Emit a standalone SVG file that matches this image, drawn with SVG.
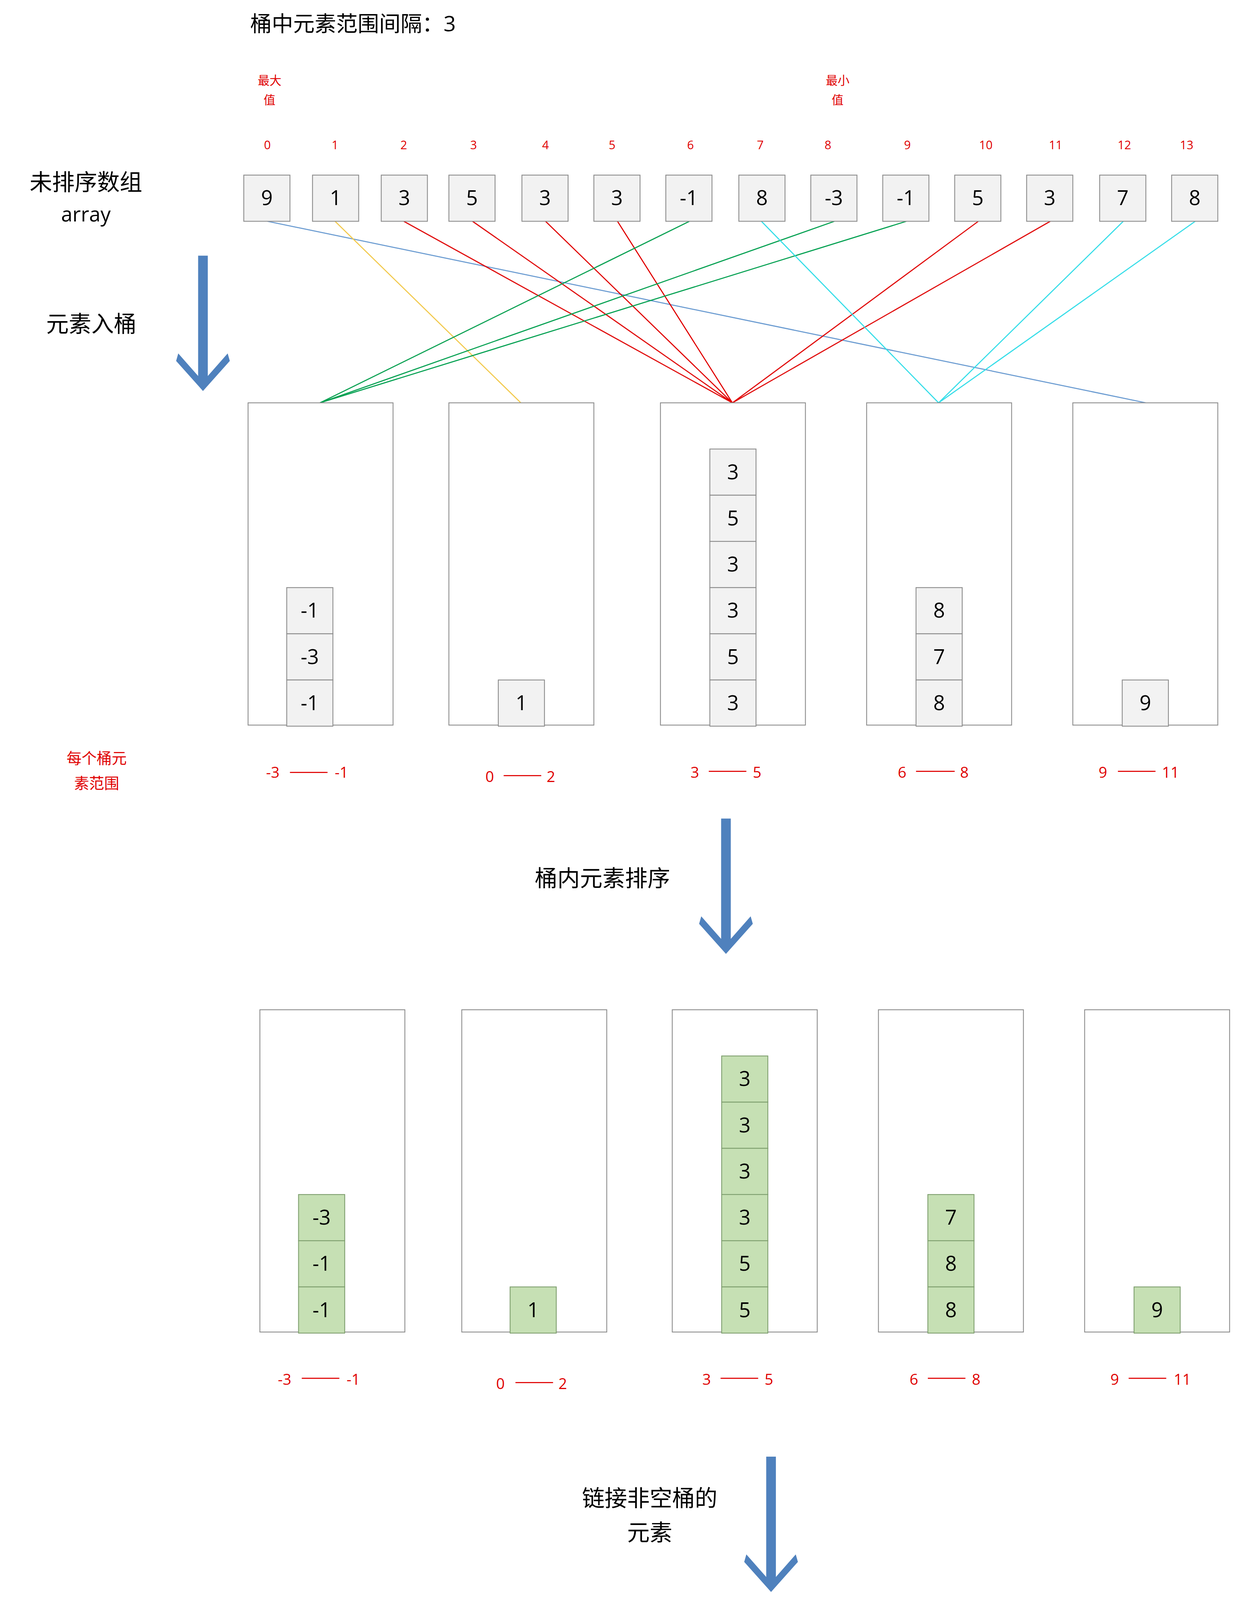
<svg xmlns="http://www.w3.org/2000/svg" width="3160" height="4313" viewBox="0 0 3160 4313">
<style>
text{font-family:"Open Sans","Noto Sans CJK SC",sans-serif;text-anchor:middle}
.c{fill:#f2f2f2;stroke:#8c8c8c;stroke-width:0.8}
.g{fill:#c6e0b4;stroke:#7f9f6f;stroke-width:0.8}
.y{fill:#ffd966;stroke:#b7950b;stroke-width:0.8}
.v{font-size:19px;fill:#000}
.r{fill:#e00000;font-size:14px}
.ix{fill:#e00000;font-size:11px}
.bk{fill:#fff;stroke:#8c8c8c;stroke-width:0.8}
.rl{stroke:#e00000;stroke-width:1}
.af{fill:#4f81bd}
.h{font-size:21px;fill:#000}
</style>
<defs>
<path id="arr" class="af" d="M-4.5 0H4.5V112L23 91L25 98L0 126L-25 98L-23 91L-4.5 112Z"/>
</defs>
<rect width="3160" height="4313" fill="#fff"/>
<g transform="scale(2.75)">
<text x="233" y="29" class="h" style="text-anchor:start;font-size:20px">桶中元素范围间隔：3</text>
<g id="labels-top">
<text x="251" y="79" class="ix">最大</text><text x="251" y="97" class="ix">值</text>
<text x="780" y="79" class="ix">最小</text><text x="780" y="97" class="ix">值</text>
<text x="249" y="139" class="ix">0</text><text x="312" y="139" class="ix">1</text><text x="376" y="139" class="ix">2</text><text x="441" y="139" class="ix">3</text><text x="508" y="139" class="ix">4</text><text x="570" y="139" class="ix">5</text><text x="643" y="139" class="ix">6</text><text x="708" y="139" class="ix">7</text><text x="771" y="139" class="ix">8</text><text x="845" y="139" class="ix">9</text><text x="918" y="139" class="ix">10</text><text x="983" y="139" class="ix">11</text><text x="1047" y="139" class="ix">12</text><text x="1105" y="139" class="ix">13</text>
<text x="80" y="177" class="h">未排序数组</text><text x="80" y="206" class="v">array</text>
<text x="85" y="309" class="h">元素入桶</text>
<text x="561" y="825" class="h">桶内元素排序</text>
<text x="605" y="1402" class="h">链接非空桶的</text><text x="605" y="1434" class="h">元素</text>
<text x="61" y="1542" class="h">排序完成</text>
<text x="90" y="711" class="r">每个桶元</text><text x="90" y="734" class="r">素范围</text>
</g>
<g id="connectors" stroke-width="1" fill="none">
<line x1="249" y1="206" x2="1067" y2="375" stroke="#6a9bd1"/>
<line x1="312" y1="206" x2="485" y2="375" stroke="#f2c94c"/>
<g stroke="#e00000">
<line x1="376" y1="206" x2="682" y2="375"/><line x1="440" y1="206" x2="682" y2="375"/><line x1="508" y1="206" x2="682" y2="375"/><line x1="575" y1="206" x2="682" y2="375"/><line x1="911" y1="206" x2="682" y2="375"/><line x1="978" y1="206" x2="682" y2="375"/>
</g>
<g stroke="#00a050">
<line x1="642" y1="206" x2="298" y2="375"/><line x1="777" y1="206" x2="298" y2="375"/><line x1="844" y1="206" x2="298" y2="375"/>
</g>
<g stroke="#33dde8">
<line x1="709" y1="206" x2="874" y2="375"/><line x1="1046" y1="206" x2="874" y2="375"/><line x1="1113" y1="206" x2="874" y2="375"/>
</g>
<use href="#arr" x="189" y="238"/>
<use href="#arr" x="676" y="762"/>
<use href="#arr" x="718" y="1356"/>
</g>
<g id="array">
<g><rect class="c" x="227" y="163" width="43" height="43"/><text class="v" x="248.5" y="191">9</text></g>
<g><rect class="c" x="291" y="163" width="43" height="43"/><text class="v" x="312.5" y="191">1</text></g>
<g><rect class="c" x="355" y="163" width="43" height="43"/><text class="v" x="376.5" y="191">3</text></g>
<g><rect class="c" x="418" y="163" width="43" height="43"/><text class="v" x="439.5" y="191">5</text></g>
<g><rect class="c" x="486" y="163" width="43" height="43"/><text class="v" x="507.5" y="191">3</text></g>
<g><rect class="c" x="553" y="163" width="43" height="43"/><text class="v" x="574.5" y="191">3</text></g>
<g><rect class="c" x="620" y="163" width="43" height="43"/><text class="v" x="641.5" y="191">-1</text></g>
<g><rect class="c" x="688" y="163" width="43" height="43"/><text class="v" x="709.5" y="191">8</text></g>
<g><rect class="c" x="755" y="163" width="43" height="43"/><text class="v" x="776.5" y="191">-3</text></g>
<g><rect class="c" x="822" y="163" width="43" height="43"/><text class="v" x="843.5" y="191">-1</text></g>
<g><rect class="c" x="889" y="163" width="43" height="43"/><text class="v" x="910.5" y="191">5</text></g>
<g><rect class="c" x="956" y="163" width="43" height="43"/><text class="v" x="977.5" y="191">3</text></g>
<g><rect class="c" x="1024" y="163" width="43" height="43"/><text class="v" x="1045.5" y="191">7</text></g>
<g><rect class="c" x="1091" y="163" width="43" height="43"/><text class="v" x="1112.5" y="191">8</text></g>
</g>
<g id="buckets1">
<rect class="bk" x="231" y="375" width="135" height="300"/><rect class="bk" x="418" y="375" width="135" height="300"/><rect class="bk" x="615" y="375" width="135" height="300"/><rect class="bk" x="807" y="375" width="135" height="300"/><rect class="bk" x="999" y="375" width="135" height="300"/>
<rect class="c" x="267" y="547" width="43" height="43"/><text class="v" x="288.5" y="575">-1</text>
<rect class="c" x="267" y="590" width="43" height="43"/><text class="v" x="288.5" y="618">-3</text>
<rect class="c" x="267" y="633" width="43" height="43"/><text class="v" x="288.5" y="661">-1</text>
<rect class="c" x="464" y="633" width="43" height="43"/><text class="v" x="485.5" y="661">1</text>
<rect class="c" x="661" y="418" width="43" height="43"/><text class="v" x="682.5" y="446">3</text>
<rect class="c" x="661" y="461" width="43" height="43"/><text class="v" x="682.5" y="489">5</text>
<rect class="c" x="661" y="504" width="43" height="43"/><text class="v" x="682.5" y="532">3</text>
<rect class="c" x="661" y="547" width="43" height="43"/><text class="v" x="682.5" y="575">3</text>
<rect class="c" x="661" y="590" width="43" height="43"/><text class="v" x="682.5" y="618">5</text>
<rect class="c" x="661" y="633" width="43" height="43"/><text class="v" x="682.5" y="661">3</text>
<rect class="c" x="853" y="547" width="43" height="43"/><text class="v" x="874.5" y="575">8</text>
<rect class="c" x="853" y="590" width="43" height="43"/><text class="v" x="874.5" y="618">7</text>
<rect class="c" x="853" y="633" width="43" height="43"/><text class="v" x="874.5" y="661">8</text>
<rect class="c" x="1045" y="633" width="43" height="43"/><text class="v" x="1066.5" y="661">9</text>
</g>
<g id="ranges1">
<text class="r" x="254" y="724">-3</text><line class="rl" x1="270" y1="719" x2="305" y2="719"/><text class="r" x="318" y="724">-1</text>
<text class="r" x="456" y="728">0</text><line class="rl" x1="469" y1="722" x2="504" y2="722"/><text class="r" x="513" y="728">2</text>
<text class="r" x="647" y="724">3</text><line class="rl" x1="660" y1="718" x2="695" y2="718"/><text class="r" x="705" y="724">5</text>
<text class="r" x="840" y="724">6</text><line class="rl" x1="853" y1="718" x2="889" y2="718"/><text class="r" x="898" y="724">8</text>
<text class="r" x="1027" y="724">9</text><line class="rl" x1="1041" y1="718" x2="1076" y2="718"/><text class="r" x="1090" y="724">11</text>
</g>
<g id="buckets2">
<rect class="bk" x="242" y="940" width="135" height="300"/><rect class="bk" x="430" y="940" width="135" height="300"/><rect class="bk" x="626" y="940" width="135" height="300"/><rect class="bk" x="818" y="940" width="135" height="300"/><rect class="bk" x="1010" y="940" width="135" height="300"/>
<rect class="g" x="278" y="1112" width="43" height="43"/><text class="v" x="299.5" y="1140">-3</text>
<rect class="g" x="278" y="1155" width="43" height="43"/><text class="v" x="299.5" y="1183">-1</text>
<rect class="g" x="278" y="1198" width="43" height="43"/><text class="v" x="299.5" y="1226">-1</text>
<rect class="g" x="475" y="1198" width="43" height="43"/><text class="v" x="496.5" y="1226">1</text>
<rect class="g" x="672" y="983" width="43" height="43"/><text class="v" x="693.5" y="1011">3</text>
<rect class="g" x="672" y="1026" width="43" height="43"/><text class="v" x="693.5" y="1054">3</text>
<rect class="g" x="672" y="1069" width="43" height="43"/><text class="v" x="693.5" y="1097">3</text>
<rect class="g" x="672" y="1112" width="43" height="43"/><text class="v" x="693.5" y="1140">3</text>
<rect class="g" x="672" y="1155" width="43" height="43"/><text class="v" x="693.5" y="1183">5</text>
<rect class="g" x="672" y="1198" width="43" height="43"/><text class="v" x="693.5" y="1226">5</text>
<rect class="g" x="864" y="1112" width="43" height="43"/><text class="v" x="885.5" y="1140">7</text>
<rect class="g" x="864" y="1155" width="43" height="43"/><text class="v" x="885.5" y="1183">8</text>
<rect class="g" x="864" y="1198" width="43" height="43"/><text class="v" x="885.5" y="1226">8</text>
<rect class="g" x="1056" y="1198" width="43" height="43"/><text class="v" x="1077.5" y="1226">9</text>
</g>
<g id="ranges2">
<text class="r" x="265" y="1289">-3</text><line class="rl" x1="281" y1="1283" x2="316" y2="1283"/><text class="r" x="329" y="1289">-1</text>
<text class="r" x="466" y="1293">0</text><line class="rl" x1="480" y1="1287" x2="515" y2="1287"/><text class="r" x="524" y="1293">2</text>
<text class="r" x="658" y="1289">3</text><line class="rl" x1="671" y1="1283" x2="706" y2="1283"/><text class="r" x="716" y="1289">5</text>
<text class="r" x="851" y="1289">6</text><line class="rl" x1="864" y1="1283" x2="899" y2="1283"/><text class="r" x="909" y="1289">8</text>
<text class="r" x="1038" y="1289">9</text><line class="rl" x1="1051" y1="1283" x2="1086" y2="1283"/><text class="r" x="1101" y="1289">11</text>
</g>
<g id="result">
<rect class="y" x="237" y="1519" width="43" height="43"/><text class="v" x="258.5" y="1547">-3</text>
<rect class="y" x="301" y="1519" width="43" height="43"/><text class="v" x="322.5" y="1547">-1</text>
<rect class="y" x="365" y="1519" width="43" height="43"/><text class="v" x="386.5" y="1547">-1</text>
<rect class="y" x="429" y="1519" width="43" height="43"/><text class="v" x="450.5" y="1547">1</text>
<rect class="y" x="496" y="1519" width="43" height="43"/><text class="v" x="517.5" y="1547">3</text>
<rect class="y" x="563" y="1519" width="43" height="43"/><text class="v" x="584.5" y="1547">3</text>
<rect class="y" x="630" y="1519" width="43" height="43"/><text class="v" x="651.5" y="1547">3</text>
<rect class="y" x="697" y="1519" width="43" height="43"/><text class="v" x="718.5" y="1547">3</text>
<rect class="y" x="765" y="1519" width="43" height="43"/><text class="v" x="786.5" y="1547">5</text>
<rect class="y" x="832" y="1519" width="43" height="43"/><text class="v" x="853.5" y="1547">5</text>
<rect class="y" x="900" y="1519" width="43" height="43"/><text class="v" x="921.5" y="1547">7</text>
<rect class="y" x="967" y="1519" width="43" height="43"/><text class="v" x="988.5" y="1547">8</text>
<rect class="y" x="1034" y="1519" width="43" height="43"/><text class="v" x="1055.5" y="1547">8</text>
<rect class="y" x="1101" y="1519" width="43" height="43"/><text class="v" x="1122.5" y="1547">9</text>
</g>
</g>
</svg>
